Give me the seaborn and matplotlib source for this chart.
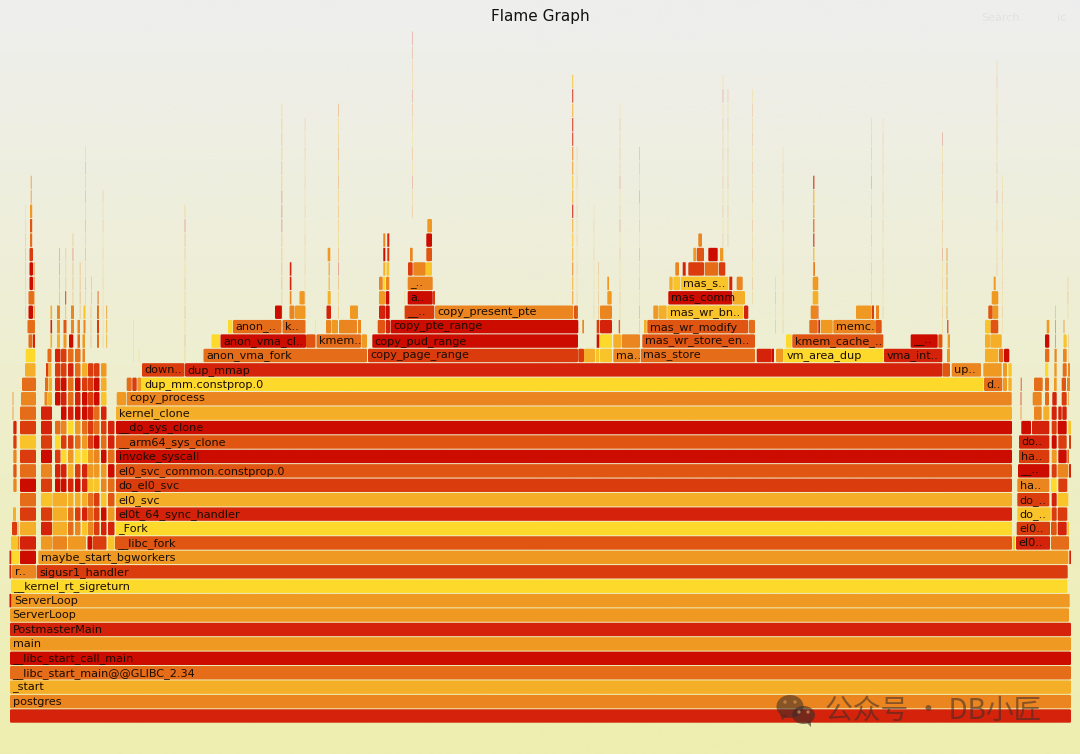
#!/usr/bin/env python3
import matplotlib
matplotlib.use("Agg")
import matplotlib.pyplot as plt
from matplotlib.patches import Ellipse, Polygon
import seaborn as sns
import seaborn.objects as so
import numpy as np
import pandas as pd

# heat scale of the frames, 0 = red ... 9 = yellow
heat_colors = ["#cd0c00", "#d4230a", "#db3c0d", "#e05512", "#e56c18",
               "#ea851f", "#ef9923", "#f5ae28", "#f9c42a", "#fdd92c"]

# long frames, one for each depth from the root
trunk_label = ["", "postgres", "_start", "__libc_start_main@@GLIBC_2.34", "__libc_start_call_main",
               "main", "PostmasterMain", "ServerLoop", "ServerLoop", "__kernel_rt_sigreturn",
               "sigusr1_handler", "maybe_start_bgworkers", "__libc_fork", "_Fork", "el0t_64_sync_handler",
               "el0_svc", "do_el0_svc", "el0_svc_common.constprop.0", "invoke_syscall", "__arm64_sys_clone",
               "__do_sys_clone", "kernel_clone", "copy_process", "dup_mm.constprop.0", "dup_mmap"]
trunk_start = [10, 10, 10, 10, 10, 10, 10, 10, 11.3, 11, 36.7, 38.3, 115, 116, 116,
               116, 116, 116, 116, 116, 116, 116, 126.7, 141.7, 185]
trunk_end = [1071, 1071, 1071, 1071, 1071, 1071, 1071, 1069, 1069.7, 1067.3, 1067.7, 1068.3, 1012, 1012, 1012,
             1012, 1012, 1012, 1012, 1012, 1012, 1012, 1011.7, 983.3, 942.3]
trunk_heat = [1, 5, 7, 4, 0, 6, 1, 6, 6, 9, 2, 6, 3, 9, 1, 7, 2, 3, 0, 3, 0, 7, 5, 9, 1]

# the other frames, one list for each depth
block_depth = list(range(10, 35))
block_start = [
    [12],
    [1069.3],
    [1016, 1012.7, 1051],
    [1016.7, 1051, 1057.7, 1067.3],
    [1017.3, 1051.7, 1057.7],
    [1017.3, 1051.7, 1057.7],
    [1017.3, 1051, 1058.3],
    [1018, 1051.7, 1057.7, 1069],
    [1019, 1051.7, 1058.3, 1067.3],
    [1019, 1051.7, 1058.3, 1069],
    [1021.3, 1032, 1051.7, 1057.7, 1068.3],
    [1020.5, 1034, 1043.3, 1051.7, 1058.3, 1062.3],
    [1020.5, 1032.7, 1045, 1052.3, 1061.7, 1068],
    [984, 1003, 1008.3, 1034, 1045, 1054, 1061.7, 1067],
    [142, 942.5, 951.7, 983.3, 1003, 1008.3, 1045, 1054.3, 1062.7, 1068],
    [203.5, 368, 578.3, 584, 595.7, 600, 613.3, 640.7, 756.7, 771.7, 776, 784, 884, 947, 985, 999, 1004, 1045, 1054.5, 1063],
    [211.5, 220.5, 306, 316.5, 361.5, 372.3, 596.7, 600, 613.3, 621.7, 642.3, 786, 792.3, 910.7, 938.3, 947.7, 985, 990.3, 1045, 1063.5],
    [228, 233, 282.5, 326, 331.5, 339, 358, 377.7, 385.7, 390.5, 582.3, 596.7, 600, 618.7, 644, 647.3, 749, 809.3, 818.3, 820.7, 833.3, 875.3, 947, 985, 990.7, 1046.7],
    [275, 289.5, 295, 326.5, 350, 379, 385.7, 404.7, 435, 574, 600, 653.3, 658.7, 667.3, 744, 810.7, 817.5, 856, 872, 876, 988.3, 992.7],
    [299.5, 327.7, 379, 385.7, 407.7, 433, 607.3, 668.3, 732.7, 812.7, 991.7],
    [379, 383, 386, 407.7, 607.3, 669.3, 673.3, 680.7, 729.3, 736.7, 812.7, 993.7],
    [383.3, 386.5, 408, 413.3, 426, 675.3, 682.7, 688.3, 704.7, 719, 813],
    [383.3, 387.3, 410, 426.3, 693.3, 696.7, 708.3, 720],
    [383.3, 387.3, 426.3, 698.3],
    [427.3],
]
block_end = [
    [36],
    [1071],
    [1050, 1015, 1069],
    [1050, 1056.7, 1066.7, 1069],
    [1050.7, 1056.7, 1067.3],
    [1049.3, 1056.7, 1068.3],
    [1049.3, 1056.7, 1067.3],
    [1049.3, 1056.7, 1068.3, 1071],
    [1049.3, 1056.7, 1066.7, 1069],
    [1049.3, 1056.7, 1066.7, 1071],
    [1031, 1049.3, 1056.7, 1066.7, 1071],
    [1021.5, 1041.7, 1049.3, 1056.7, 1061.7, 1066.7],
    [1021.5, 1041.7, 1049, 1056.7, 1066.7, 1069],
    [1002.3, 1007, 1011.7, 1042.7, 1049, 1056.7, 1066, 1070],
    [184.5, 950, 981, 1001.7, 1007, 1011.7, 1048.3, 1056.7, 1066.7, 1070],
    [367, 578, 584, 595, 599.3, 612, 640, 755, 771.7, 774, 783.3, 883.3, 942.3, 950, 998.3, 1003.3, 1009.3, 1049.3, 1056.7, 1066.7],
    [220, 306, 315.5, 361, 367, 578, 599.3, 612, 621, 640, 755, 791.7, 883.3, 937.7, 942.3, 950, 990, 1001.7, 1049.3, 1066.7],
    [232.5, 281.5, 305.5, 331, 338, 357, 361, 385, 390, 578.3, 584, 599.3, 612, 620, 646.7, 748.3, 755, 817.7, 820, 832.7, 875, 881.7, 948.5, 990.7, 998.3, 1049.3],
    [282, 294.5, 305.5, 331, 358, 385.3, 389.7, 434.3, 573.3, 578, 612, 658.3, 666.7, 743.3, 748.3, 817.5, 818.5, 871.7, 874, 879, 992.7, 998.3],
    [304.7, 330.7, 385, 389.3, 432.7, 435, 611.7, 732.3, 745, 818.3, 998.3],
    [382.7, 385.3, 389.3, 432.7, 609, 672.7, 680, 728.3, 732.3, 742.7, 818.3, 995.7],
    [385.3, 389.3, 412.7, 425.7, 432, 679, 685.7, 704, 718.3, 725.3, 815],
    [385.3, 389.3, 412.7, 432, 696, 704, 717.7, 723.3],
    [385.3, 389.3, 432, 702],
    [432],
]
block_heat = [
    [5],
    [1],
    [1, 8, 4],
    [2, 3, 1, 8],
    [8, 2, 2],
    [2, 1, 8],
    [5, 9, 2],
    [0, 2, 5, 1],
    [2, 6, 0, 4],
    [1, 0, 2, 2],
    [0, 1, 2, 0, 8],
    [5, 5, 7, 1, 1, 1],
    [1, 5, 4, 1, 2, 6],
    [4, 6, 7, 4, 4, 6, 3, 5],
    [2, 3, 5, 6, 6, 8, 9, 6, 4, 5],
    [4, 2, 2, 7, 8, 8, 5, 4, 1, 0, 6, 9, 1, 6, 7, 4, 0, 4, 5, 5],
    [9, 0, 3, 4, 6, 0, 0, 9, 7, 5, 3, 9, 3, 0, 3, 6, 7, 7, 0, 8],
    [9, 4, 4, 5, 6, 5, 5, 3, 1, 0, 5, 2, 1, 1, 7, 3, 4, 4, 1, 6, 5, 3, 1, 8, 3, 6],
    [0, 5, 6, 1, 6, 1, 0, 2, 5, 3, 5, 6, 7, 8, 1, 5, 1, 6, 2, 5, 3, 6],
    [6, 7, 6, 0, 0, 2, 6, 0, 7, 7, 6],
    [5, 9, 5, 5, 6, 7, 8, 8, 1, 5, 6, 6],
    [7, 8, 2, 5, 8, 5, 1, 2, 4, 2, 3],
    [0, 2, 5, 3, 6, 3, 0, 6],
    [5, 1, 0, 5],
    [6],
]
block_label = {
    (10, 12): "r..", (12, 1016): "el0..", (13, 1016.7): "el0..", (14, 1017.3): "do_..",
    (15, 1017.3): "do_..", (16, 1017.3): "ha..", (17, 1018): "__..", (18, 1019): "ha..",
    (19, 1019): "do..", (23, 984): "d..", (24, 142): "down..", (24, 951.7): "up..",
    (25, 203.5): "anon_vma_fork", (25, 368): "copy_page_range", (25, 613.3): "ma..",
    (25, 640.7): "mas_store", (25, 784): "vm_area_dup", (25, 884): "vma_int..",
    (26, 220.5): "anon_vma_cl..", (26, 316.5): "kmem..", (26, 372.3): "copy_pud_range",
    (26, 642.3): "mas_wr_store_en..", (26, 792.3): "kmem_cache_..", (26, 910.7): "__..",
    (27, 233): "anon_..", (27, 282.5): "k..", (27, 390.5): "copy_pte_range",
    (27, 647.3): "mas_wr_modify", (27, 833.3): "memc.", (28, 404.7): "__..",
    (28, 435): "copy_present_pte", (28, 667.3): "mas_wr_bn..", (29, 407.7): "a..",
    (29, 668.3): "mas_comm", (30, 407.7): "_..", (30, 680.7): "mas_s..",
}

# narrow towers on the left: first depth, then the heat of each frame going up ("." = no frame)
tower_start = [13.3, 12.5, 13, 12, 11, 17.5, 17.5, 9.5, 9.5, 12, 20, 21, 22, 25, 25.7,
               28.5, 33, 27.5, 28.5, 28.5, 29.5, 30, 30.7, 33.5, 41, 44.5, 48, 45, 48.5,
               46, 48.5, 47.5, 50.5, 52.5, 55, 57, 61, 63.5, 65, 68, 68, 69, 71,
               75, 77.5, 82, 82.5, 83.5, 87.5, 88, 94, 92.5, 101, 108, 97, 97.5, 106,
               116.7, 126.7, 132.3, 137.3]
tower_width = [3.3, 1, 3, 5, 6, 1.8, 1, 1.8, 1.8, 7.3, 16, 15, 14, 10.5, 9.5,
               4, 2, 7.5, 4.5, 5.5, 3.5, 2.2, 1, 1.2, 11, 3, 4, 3, 3.5,
               2.5, 3, 4, 1.6, 14.5, 5.5, 3, 5.5, 3, 1.2, 18, 5.5, 4.3, 3,
               5.5, 2.5, 5.5, 2.5, 2, 4.5, 5.5, 5.5, 14, 5.5, 6.5, 2, 1.2, 1.2,
               9.3, 5, 4.4, 4]
tower_floor = [16, 21, 14, 13, 12, 12, 13, 8, 10, 11, 11, 22, 23, 24, 25,
               26, 26, 27, 28, 29, 30, 33, 36, 28, 12, 22, 22, 23, 23,
               24, 24, 25, 26, 12, 16, 26, 16, 26, 28, 12, 13, 26, 27,
               13, 26, 13, 25, 27, 12, 13, 13, 12, 13, 12, 26, 28, 26,
               22, 23, 23, 23]
tower_heat = ["53521", "55", "7", "2", "8", "5", "5", "0", "11", "9", "01724042824", "5", "4", "7", "9",
              "4", "1", "4", "0", "4", "002", "436", "55", "5545", "6128250211", "5", "7", "4", "7",
              "2", "7", "4", "717", "5777", "01294.0121", "765", "0192501022", "63", "81", "6", "4471762914414", "0", "55",
              "5270294601044", "45", "817119640027", "56", "58", "0", "544866221222", "222865044002", "2", "108560421876", "816340411", "423", "63", "776",
              "6", "4", "2", "6"]

# hairline towers, most of them thinner than a pixel
spike_start = [281.4, 304.8, 338.1, 412.2, 572, 576.8, 593.8, 619.7, 639.2, 722.7, 727.7, 752.4,
               782.8, 813, 871.4, 882.8, 942.4, 996.7, 1002.5, 946.5, 85.2, 102.8, 184.6, 133.2,
               138.7, 25.2, 59, 65.5, 72.5, 79.7, 91, 90.6, 327.7, 328.5, 315.5, 289.8, 404.4, 598, 775, 1020.7,
               1055, 1063.5, 1067.5, 1068, 34]
spike_width = [0.9, 0.5, 0.9, 0.6, 1.3, 0.5, 0.4, 0.6, 0.6, 0.6, 0.6, 0.6,
               0.5, 1.5, 0.6, 0.5, 0.6, 0.6, 0.5, 1, 0.8, 0.5, 0.8, 0.7,
               0.6, 0.6, 0.9, 0.7, 0.9, 0.9, 0.8, 0.8, 2.6, 1.5, 0.5, 1.6, 0.6, 0.7, 0.7, 1,
               1, 1, 0.8, 0.7, 0.8]
spike_floor = [28, 29, 28, 35, 29, 28, 28, 27, 27, 33, 33, 29,
               27, 31, 29, 28, 26, 31, 27, 28, 29, 26, 25, 25,
               25, 28, 29, 29, 29, 28, 29, 26, 32, 30, 26, 29, 28, 28, 27, 23,
               26, 27, 28, 24, 27]
spike_heat = ["675566112657678", "5857585758575", "675158767585785", "5728597528631", "6757870786511718",
              "857585758575", "57885758", "5757858168175758", "5285738572853", "585758575818", "57585758585", "758575857585758",
              "5758578585758", "8713671", "6758575817567", "58575857585758", "575868175857581", "578581758576857", "75857585758", "67665",
              "75857585758", "57685758575", "75857686517", "888", "8", "57654578", "5533", "5575", "65516", "5455", "55",
              "555", "6", "76", "88", "511", "58", "5575", "5857", "1", "558", "5", "857", "575", "55"]

sns.set_theme(style="white")
plt.rcParams["font.family"] = ["DejaVu Sans"]

# build one table with all the frames
rows = []
for i, label in enumerate(trunk_label):
    rows.append((i, trunk_start[i], trunk_end[i], trunk_heat[i], label))
for d, starts, ends, heats in zip(block_depth, block_start, block_end, block_heat):
    for s, e, h in zip(starts, ends, heats):
        rows.append((d, s, e, h, block_label.get((d, s), "")))
for s, w, f, heat in zip(tower_start + spike_start, tower_width + spike_width,
                         tower_floor + spike_floor, tower_heat + spike_heat):
    for k, h in enumerate(heat):
        if h != ".":
            rows.append((f + k, s, s + w, int(h), ""))
frames = pd.DataFrame(rows, columns=["depth", "left", "right", "heat", "label"])
frames["color"] = [heat_colors[h] for h in frames["heat"]]

fig = plt.figure(figsize=(10.8, 7.54), dpi=100)
back = fig.add_axes([0, 0, 1, 1], zorder=0)
ramp = np.linspace(0, 1, 256)[:, None, None] * (np.array([238, 238, 176]) - np.array([238, 238, 238]))
back.imshow((ramp + np.array([238, 238, 238])) / 255, aspect="auto", extent=(0, 1080, 754, 0))
back.axis("off")

ax = fig.add_axes([0, 0, 1, 1], zorder=1)
ax.patch.set_alpha(0)
xlim = (0, 1080)
ylim = (-2.635, 49.65)
(
    so.Plot(frames, y="depth", x="right", color="color")
    .add(so.Bar(alpha=1, edgewidth=0, width=0.93), orient="y", baseline="left")
    .scale(color=None)
    .limit(x=xlim, y=ylim)
    .on(ax)
    .plot()
)
ax.set_xlim(xlim)
ax.set_ylim(ylim)
ax.axis("off")

# soften the bars into the rounded frames of the original
px_y = (ylim[1] - ylim[0]) / 754
for bar in list(ax.patches):
    bar.set_clip_path(None)
    bar.set_snap(False)
    w = bar.get_width()
    if w > 3:
        r = 1.1
        bar.set_bounds(bar.get_x() + r, bar.get_y() + r * px_y, w - 2 * r, bar.get_height() - 2 * r * px_y)
        bar.set_edgecolor(bar.get_facecolor())
        bar.set_linewidth(2 * r * 0.72)
        bar.set_joinstyle("round")
    else:
        bar.set_linewidth(0)
        # hairlines only tint the background
        if w < 1:
            bar.set_alpha(0.38)
        elif w < 1.6:
            bar.set_alpha(0.7)

for _, row in frames[frames["label"] != ""].iterrows():
    ax.text(row["left"] + 2.5, row["depth"] - 0.03, row["label"], fontsize=8.1, color="#1c0d04",
            va="center", ha="left", clip_on=False)

# title, search box and watermark in pixel coordinates
top = fig.add_axes([0, 0, 1, 1], zorder=2)
top.patch.set_alpha(0)
top.set_xlim(0, 1080)
top.set_ylim(754, 0)
top.axis("off")
top.text(540, 16, "Flame Graph", fontsize=11, ha="center", va="center", color="#111111")
top.text(981, 18, "Search", fontsize=8, ha="left", va="center", color="#e2e2e2")
top.text(1057, 18, "ic", fontsize=8, ha="left", va="center", color="#e2e2e2")

mark = "#3a2c2a"
top.add_patch(Ellipse((790, 706.5), 27, 23, color=mark, alpha=0.55, lw=0))
top.add_patch(Polygon([(780, 714), (782, 720), (788, 716)], color=mark, alpha=0.55, lw=0))
top.add_patch(Ellipse((803.5, 715), 23, 18, color=mark, alpha=0.6, lw=0))
top.add_patch(Polygon([(806, 722), (811, 727), (811, 721)], color=mark, alpha=0.6, lw=0))
for ex, ey in [(785, 702), (795, 702), (799, 712), (808, 712)]:
    top.add_patch(Ellipse((ex, ey), 3.4, 3.4, color="#c98a50", alpha=0.8, lw=0))
top.text(825, 711, "公众号 · DB小匠", fontsize=20, ha="left", va="center", color=mark, alpha=0.55,
         family=["Noto Sans CJK SC", "DejaVu Sans"])

fig.savefig("out.png", dpi=100)
